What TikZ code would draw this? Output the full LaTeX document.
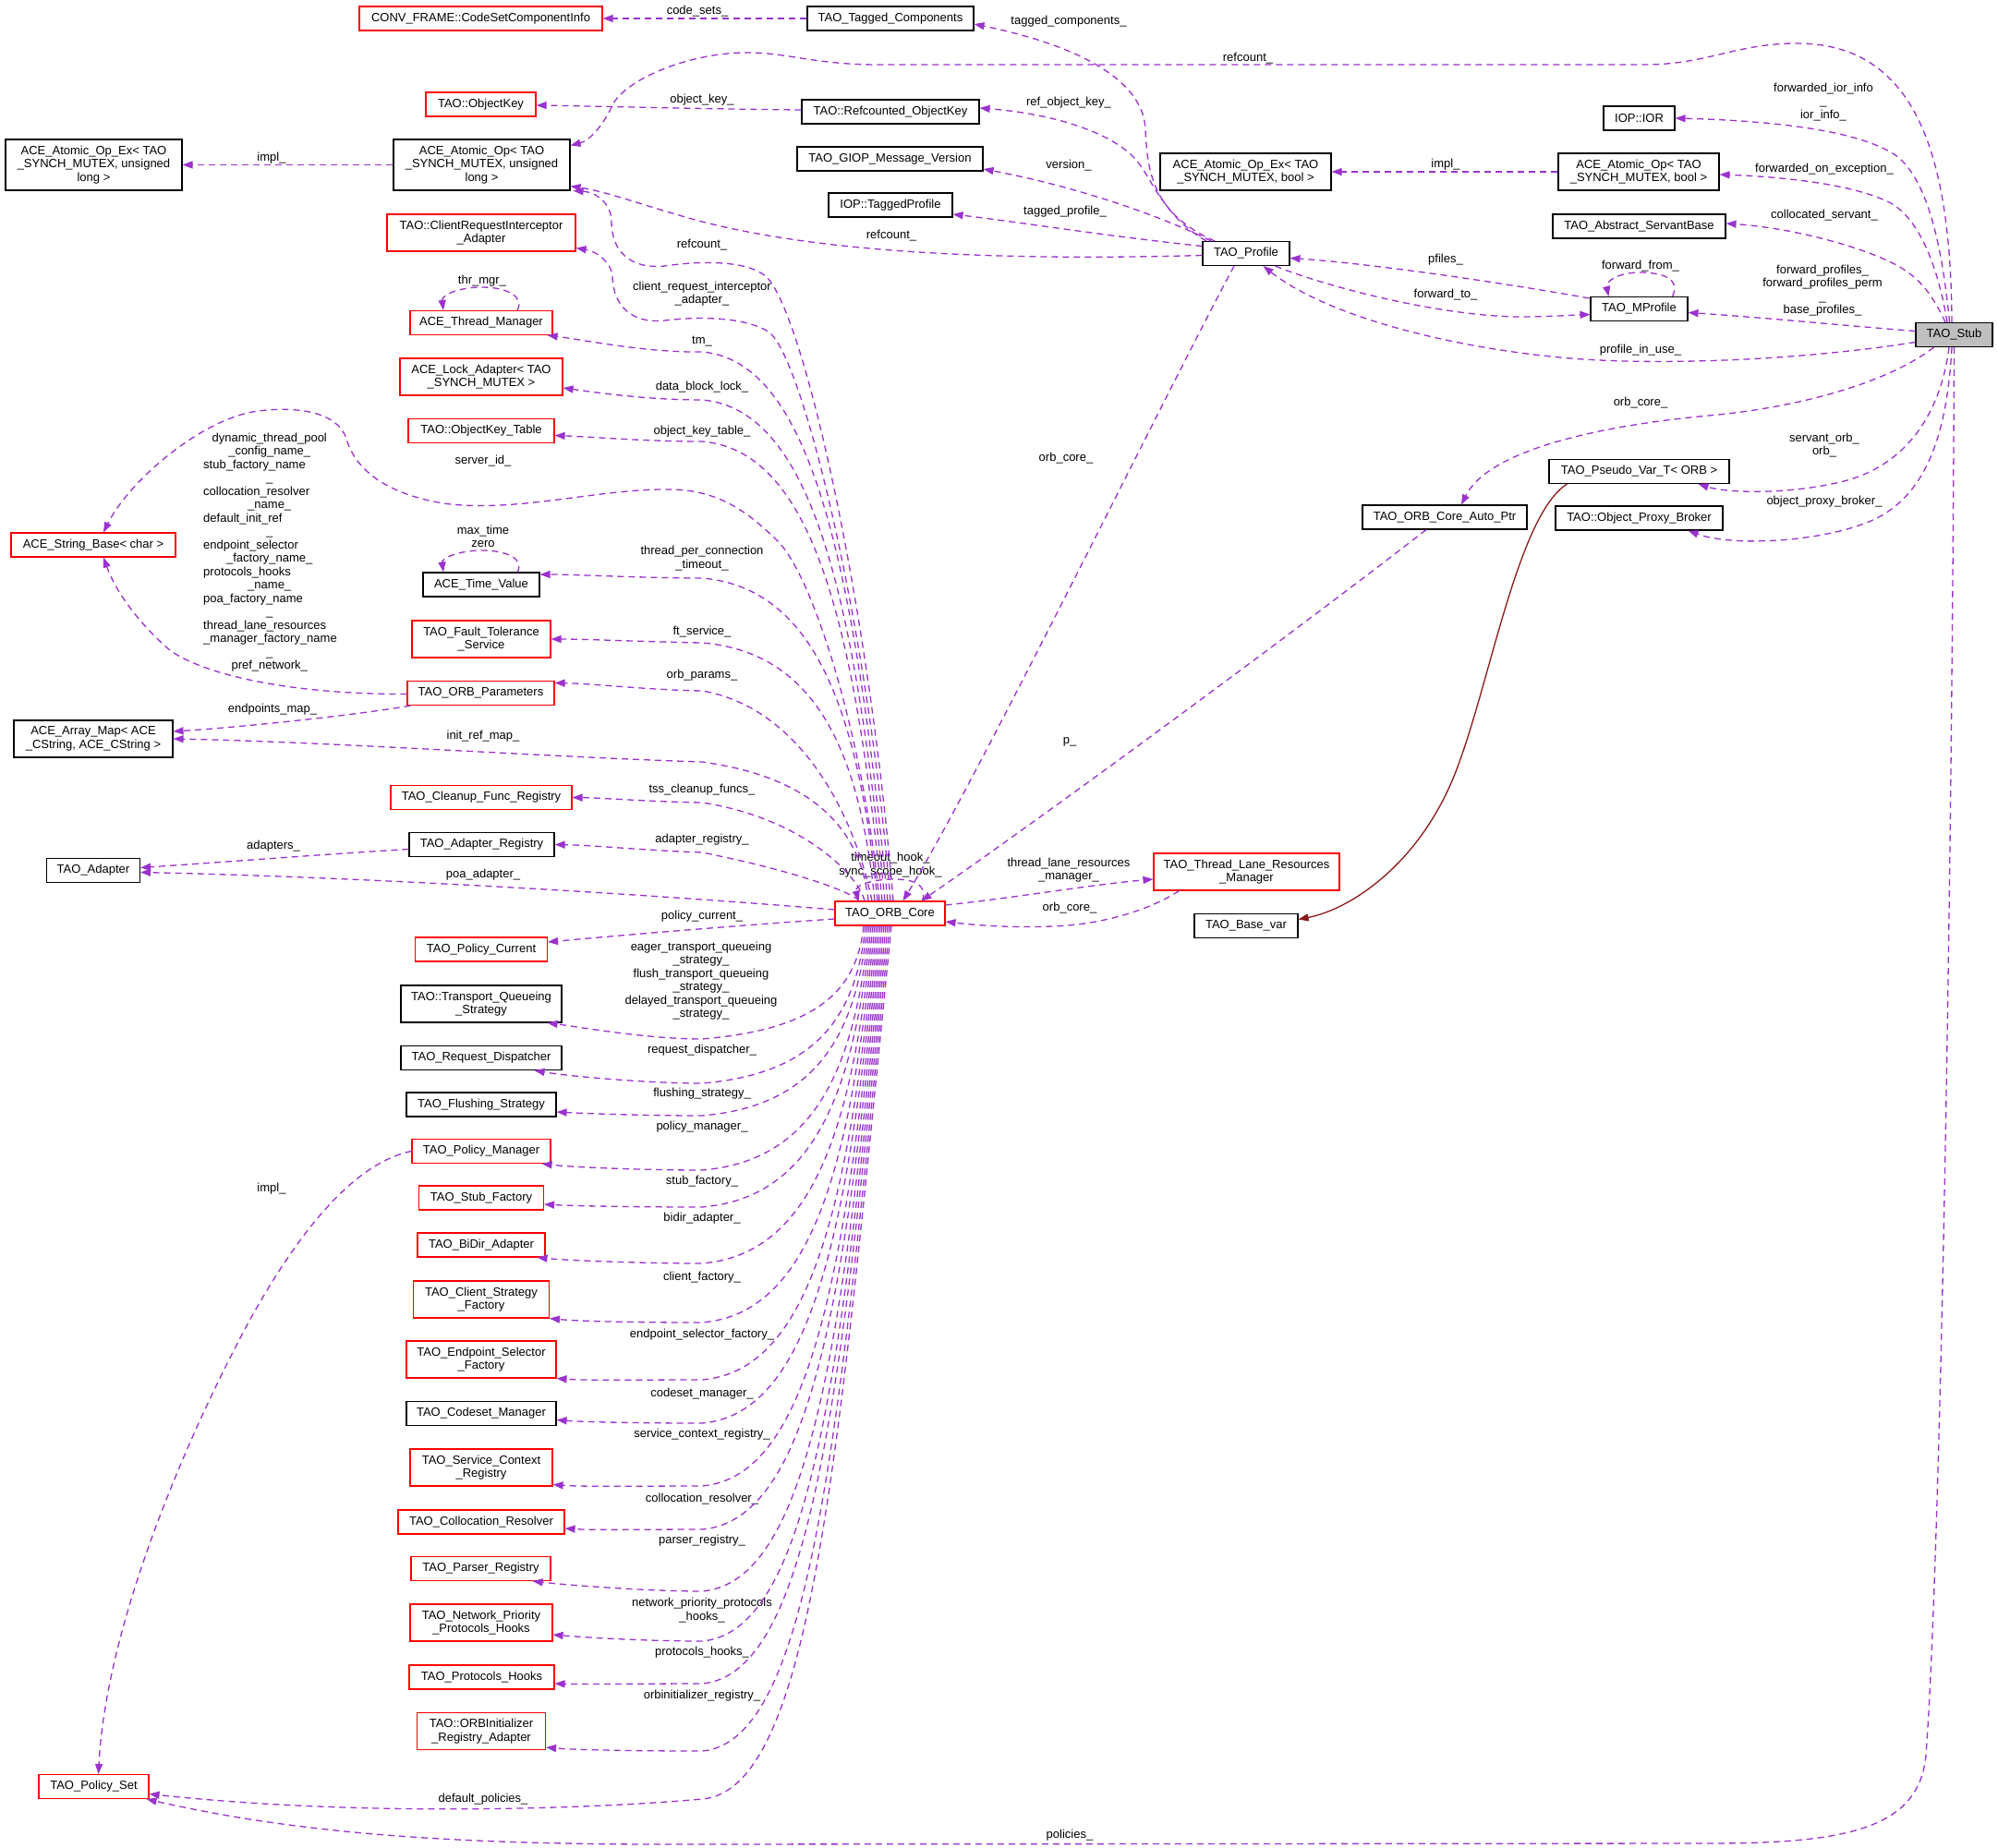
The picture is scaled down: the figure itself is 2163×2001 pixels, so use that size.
\documentclass[tikz,border=0pt]{standalone}
\usepackage{fontspec}
\setmainfont{Liberation Sans}
\usetikzlibrary{arrows.meta}
\definecolor{dorchid}{HTML}{9A32CD}
\definecolor{fbrick}{HTML}{8B1A1A}
\definecolor{stubgray}{HTML}{BFBFBF}
\definecolor{boxred}{HTML}{FF0000}
\newcommand{\dxf}{\fontsize{13}{14.5}\selectfont}
\newcommand{\clin}[1]{\makebox[143pt][c]{#1}}
\begin{document}
\begin{tikzpicture}[x=1pt,y=-1pt,
  bx/.style={draw=black, line width=1.1pt, rectangle, inner sep=0pt, align=center, font=\dxf},
  rbx/.style={bx, draw=boxred},
  dep/.style={draw=dorchid, line width=1.3pt, dash pattern=on 7pt off 5pt, -{Triangle[length=11pt,width=8pt]}},
  inh/.style={draw=fbrick, line width=1.3pt, -{Triangle[length=11pt,width=8pt]}},
  lbl/.style={font=\dxf, align=center, inner sep=0pt}]
\fill[white] (0,0) rectangle (2163,2001);
\useasboundingbox (0,0) rectangle (2163,2001);

% ---------- nodes ----------
\node[rbx, minimum width=263, minimum height=26] (conv) at (520.5,20) {CONV\_FRAME::CodeSetComponentInfo};
\node[bx, minimum width=180, minimum height=26] (tagged) at (964,20) {TAO\_Tagged\_Components};
\node[rbx, minimum width=119, minimum height=26] (okey) at (520.5,113) {TAO::ObjectKey};
\node[bx, minimum width=192, minimum height=26] (rokey) at (964,121) {TAO::Refcounted\_ObjectKey};
\node[bx, minimum width=201, minimum height=26] (giop) at (963.5,172) {TAO\_GIOP\_Message\_Version};
\node[bx, minimum width=134, minimum height=26] (tprof) at (964,222) {IOP::TaggedProfile};
\node[bx, minimum width=191, minimum height=55] (aoul) at (521.5,178.5) {ACE\_Atomic\_Op< TAO\\\_SYNCH\_MUTEX, unsigned\\long >};
\node[bx, minimum width=191, minimum height=55] (aoexul) at (101.5,178.5) {ACE\_Atomic\_Op\_Ex< TAO\\\_SYNCH\_MUTEX, unsigned\\long >};
\node[bx, minimum width=185, minimum height=40] (aoexb) at (1348.5,186) {ACE\_Atomic\_Op\_Ex< TAO\\\_SYNCH\_MUTEX, bool >};
\node[bx, minimum width=174, minimum height=40] (aob) at (1774,186) {ACE\_Atomic\_Op< TAO\\\_SYNCH\_MUTEX, bool >};
\node[bx, minimum width=77, minimum height=26] (ior) at (1774.5,128) {IOP::IOR};
\node[bx, minimum width=187, minimum height=26] (servant) at (1774.5,245) {TAO\_Abstract\_ServantBase};
\node[bx, minimum width=94, minimum height=26] (profile) at (1349,274.5) {TAO\_Profile};
\node[bx, minimum width=105, minimum height=26] (mprofile) at (1774.5,334.5) {TAO\_MProfile};
\node[bx, fill=stubgray, minimum width=83, minimum height=26] (stub) at (2115.5,362.5) {TAO\_Stub};
\node[bx, minimum width=195, minimum height=26] (pseudo) at (1774.5,510.5) {TAO\_Pseudo\_Var\_T< ORB >};
\node[bx, minimum width=178, minimum height=26] (autoptr) at (1564,560) {TAO\_ORB\_Core\_Auto\_Ptr};
\node[bx, minimum width=181, minimum height=26] (opb) at (1774.5,561) {TAO::Object\_Proxy\_Broker};
\node[rbx, minimum width=201, minimum height=40] (tlrm) at (1349.5,944) {TAO\_Thread\_Lane\_Resources\\\_Manager};
\node[bx, minimum width=112, minimum height=26] (basevar) at (1349,1002.5) {TAO\_Base\_var};
\node[rbx, minimum width=119, minimum height=26] (orbcore) at (963.5,989) {TAO\_ORB\_Core};
\node[rbx, minimum width=204, minimum height=40] (cria) at (521,252) {TAO::ClientRequestInterceptor\\\_Adapter};
\node[rbx, minimum width=154, minimum height=26] (thrmgr) at (521,349.5) {ACE\_Thread\_Manager};
\node[rbx, minimum width=176, minimum height=40] (lock) at (521,408) {ACE\_Lock\_Adapter< TAO\\\_SYNCH\_MUTEX >};
\node[rbx, minimum width=158, minimum height=26] (oktable) at (521,466.5) {TAO::ObjectKey\_Table};
\node[rbx, minimum width=178, minimum height=26] (strbase) at (101,590) {ACE\_String\_Base< char >};
\node[bx, minimum width=126, minimum height=26] (timeval) at (521,633) {ACE\_Time\_Value};
\node[rbx, minimum width=150, minimum height=40] (ft) at (521,692) {TAO\_Fault\_Tolerance\\\_Service};
\node[rbx, minimum width=159, minimum height=26] (orbparams) at (520.5,750.5) {TAO\_ORB\_Parameters};
\node[bx, minimum width=172, minimum height=40] (arraymap) at (101,800) {ACE\_Array\_Map< ACE\\\_CString, ACE\_CString >};
\node[rbx, minimum width=196, minimum height=26] (cleanup) at (521,863.5) {TAO\_Cleanup\_Func\_Registry};
\node[bx, minimum width=157, minimum height=26] (adreg) at (521.5,914.5) {TAO\_Adapter\_Registry};
\node[bx, minimum width=101, minimum height=26] (adapter) at (101,942.5) {TAO\_Adapter};
\node[rbx, minimum width=143, minimum height=26] (polcur) at (521,1028) {TAO\_Policy\_Current};
\node[bx, minimum width=174, minimum height=40] (tqs) at (521,1087) {TAO::Transport\_Queueing\\\_Strategy};
\node[bx, minimum width=174, minimum height=26] (reqdisp) at (521,1145.5) {TAO\_Request\_Dispatcher};
\node[bx, minimum width=162, minimum height=26] (flush) at (521,1196) {TAO\_Flushing\_Strategy};
\node[rbx, minimum width=150, minimum height=26] (polmgr) at (521,1246.5) {TAO\_Policy\_Manager};
\node[rbx, minimum width=135, minimum height=26] (stubfac) at (521,1297) {TAO\_Stub\_Factory};
\node[rbx, minimum width=138, minimum height=26] (bidir) at (521,1348) {TAO\_BiDir\_Adapter};
\node[rbx, minimum width=147, minimum height=40] (csf) at (521,1407) {TAO\_Client\_Strategy\\\_Factory};
\node[rbx, minimum width=162, minimum height=40] (esf) at (521,1472) {TAO\_Endpoint\_Selector\\\_Factory};
\node[bx, minimum width=162, minimum height=26] (codeset) at (521,1530.5) {TAO\_Codeset\_Manager};
\node[rbx, minimum width=154, minimum height=40] (scr) at (521,1589) {TAO\_Service\_Context\\\_Registry};
\node[rbx, minimum width=180, minimum height=26] (coll) at (521,1648) {TAO\_Collocation\_Resolver};
\node[rbx, minimum width=151, minimum height=26] (parser) at (520.5,1698.5) {TAO\_Parser\_Registry};
\node[rbx, minimum width=154, minimum height=40] (nph) at (521,1757) {TAO\_Network\_Priority\\\_Protocols\_Hooks};
\node[rbx, minimum width=157, minimum height=26] (ph) at (521.5,1816) {TAO\_Protocols\_Hooks};
\node[rbx, minimum width=139, minimum height=40] (orbinit) at (521,1874.5) {TAO::ORBInitializer\\\_Registry\_Adapter};
\node[rbx, minimum width=119, minimum height=26] (polset) at (101.5,1934.5) {TAO\_Policy\_Set};

% ---------- labels ----------
\node[lbl] (l01) at (755,12) {code\_sets\_};
\node[lbl] (l02) at (1157,23) {tagged\_components\_};
\node[lbl] (l03) at (1351,63) {refcount\_};
\node[lbl] (l04) at (760,108) {object\_key\_};
\node[lbl] (l05) at (1157,111) {ref\_object\_key\_};
\node[lbl] (l06) at (294,171) {impl\_};
\node[lbl] (l07) at (1157,179) {version\_};
\node[lbl] (l08) at (1565,178) {impl\_};
\node[lbl] (l09) at (1975,183) {forwarded\_on\_exception\_};
\node[lbl] (l10) at (1153,229) {tagged\_profile\_};
\node[lbl] (l11) at (1975,233) {collocated\_servant\_};
\node[lbl] (l12) at (965,255) {refcount\_};
\node[lbl] (l13) at (760,265) {refcount\_};
\node[lbl] (l14) at (1565,281) {pfiles\_};
\node[lbl] (l15) at (1776,288) {forward\_from\_};
\node[lbl] (l16) at (522,304) {thr\_mgr\_};
\node[lbl] (l17) at (760,318) {client\_request\_interceptor\\\_adapter\_};
\node[lbl] (l18) at (1565,319) {forward\_to\_};
\node[lbl] (l19) at (1973,314.5) {forward\_profiles\_\\forward\_profiles\_perm\\\_\\base\_profiles\_};
\node[lbl] (l20) at (1974,110.5) {forwarded\_ior\_info\\\_\\ior\_info\_};
\node[lbl] (l21) at (760,370) {tm\_};
\node[lbl] (l22) at (1776,379) {profile\_in\_use\_};
\node[lbl] (l23) at (760,419) {data\_block\_lock\_};
\node[lbl] (l24) at (1776,436) {orb\_core\_};
\node[lbl] (l25) at (760,467) {object\_key\_table\_};
\node[lbl] (l26) at (1975,482) {servant\_orb\_\\orb\_};
\node[lbl] (l27) at (1154,496) {orb\_core\_};
\node[lbl] (l28) at (523,499) {server\_id\_};
\node[lbl] (l29) at (1975,543) {object\_proxy\_broker\_};
\node[lbl] (l30) at (523,581) {max\_time\\zero};
\node[lbl, align=left] (l31) at (292.5,598) {\clin{dynamic\_thread\_pool}\\\clin{\_config\_name\_}\\stub\_factory\_name\\\clin{\_}\\collocation\_resolver\\\clin{\_name\_}\\default\_init\_ref\\\clin{\_}\\endpoint\_selector\\\clin{\_factory\_name\_}\\protocols\_hooks\\\clin{\_name\_}\\poa\_factory\_name\\\clin{\_}\\thread\_lane\_resources\\\_manager\_factory\_name\\\clin{\_}\\\clin{pref\_network\_}};
\node[lbl] (l32) at (760,604.5) {thread\_per\_connection\\\_timeout\_};
\node[lbl] (l33) at (760,684) {ft\_service\_};
\node[lbl] (l34) at (760,731) {orb\_params\_};
\node[lbl] (l35) at (295,768) {endpoints\_map\_};
\node[lbl] (l36) at (523,797) {init\_ref\_map\_};
\node[lbl] (l37) at (1158,803) {p\_};
\node[lbl] (l38) at (760,855) {tss\_cleanup\_funcs\_};
\node[lbl] (l39) at (760,909) {adapter\_registry\_};
\node[lbl] (l40) at (296,916) {adapters\_};
\node[lbl] (l41) at (964,936.5) {timeout\_hook\_\\sync\_scope\_hook\_};
\node[lbl] (l42) at (1157,942) {thread\_lane\_resources\\\_manager\_};
\node[lbl] (l43) at (523,947) {poa\_adapter\_};
\node[lbl] (l44) at (1158,983) {orb\_core\_};
\node[lbl] (l45) at (760,992) {policy\_current\_};
\node[lbl] (l46) at (759,1062) {eager\_transport\_queueing\\\_strategy\_\\flush\_transport\_queueing\\\_strategy\_\\delayed\_transport\_queueing\\\_strategy\_};
\node[lbl] (l47) at (760,1137) {request\_dispatcher\_};
\node[lbl] (l48) at (760,1184) {flushing\_strategy\_};
\node[lbl] (l49) at (760,1220) {policy\_manager\_};
\node[lbl] (l50) at (760,1279) {stub\_factory\_};
\node[lbl] (l51) at (294,1287) {impl\_};
\node[lbl] (l52) at (760,1319) {bidir\_adapter\_};
\node[lbl] (l53) at (760,1383) {client\_factory\_};
\node[lbl] (l54) at (760,1445) {endpoint\_selector\_factory\_};
\node[lbl] (l55) at (760,1509) {codeset\_manager\_};
\node[lbl] (l56) at (760,1553) {service\_context\_registry\_};
\node[lbl] (l57) at (760,1623) {collocation\_resolver\_};
\node[lbl] (l58) at (760,1668) {parser\_registry\_};
\node[lbl] (l59) at (760,1743.5) {network\_priority\_protocols\\\_hooks\_};
\node[lbl] (l60) at (760,1789) {protocols\_hooks\_};
\node[lbl] (l61) at (760,1836) {orbinitializer\_registry\_};
\node[lbl] (l62) at (523,1948) {default\_policies\_};
\node[lbl] (l63) at (1158,1987) {policies\_};

% ---------- straight / simple edges ----------
\draw[dep] (tagged.west) -- (conv.east);
\draw[dep] (aoul.west) -- (aoexul.east);
\draw[dep] (aob.west) -- (aoexb.east);
\draw[dep] ([yshift=2pt]rokey.west) .. controls (760,118) and (650,115) .. ([yshift=-1pt]okey.east);

% ---------- TAO_Profile edges ----------
\draw[dep] ([xshift=-34pt]profile.north) .. controls (1250,232) and (1242,190) .. (1240,140) .. controls (1238,92) and (1180,52) .. ([yshift=-6pt]tagged.east);
\draw[dep] ([xshift=-43pt]profile.north) .. controls (1262,236) and (1248,197) .. (1233,177) .. controls (1212,148) and (1150,124) .. ([yshift=4pt]rokey.east);
\draw[dep] ([xshift=-38pt]profile.north) .. controls (1270,240) and (1180,205) .. ([yshift=-11pt]giop.east);
\draw[dep] ([yshift=8pt]profile.west) .. controls (1200,256) and (1100,240) .. ([yshift=-10pt]tprof.east);
\draw[dep] ([yshift=-2pt]profile.west) .. controls (1100,282) and (900,276) .. (760,240) .. controls (700,224) and (660,208) .. ([yshift=5pt]aoul.south east);
\draw[dep] ([xshift=-13pt]profile.south) .. controls (1260,430) and (1060,840) .. ([xshift=14pt]orbcore.north);
\draw[dep] ([xshift=-16pt]profile.south east) .. controls (1440,312) and (1560,342) .. (1643,343) .. controls (1680,343) and (1705,341) .. ([yshift=-6pt]mprofile.west);

% ---------- TAO_MProfile edges ----------
\draw[dep] ([xshift=-1pt,yshift=-2pt]mprofile.north west) .. controls (1620,305) and (1480,285) .. ([yshift=-5pt]profile.east);
\draw[dep] ([xshift=36pt]mprofile.north) .. controls (1820,302) and (1800,295) .. (1775,295) .. controls (1752,295) and (1738,305) .. ([xshift=-33pt]mprofile.north);

% ---------- TAO_Stub edges ----------
\draw[dep] ([yshift=4pt]stub.west) .. controls (1990,352) and (1900,343) .. ([yshift=-4pt]mprofile.east);
\draw[dep] ([yshift=-8pt]stub.west) .. controls (1950,390) and (1800,396) .. (1700,388) .. controls (1580,378) and (1440,345) .. ([xshift=-29pt]profile.south east);
\draw[dep] ([xshift=-5pt]stub.north) .. controls (2102,260) and (2085,192) .. (2052,168) .. controls (2015,143) and (1930,131) .. (ior.east);
\draw[dep] ([xshift=-7.5pt]stub.north) .. controls (2100,300) and (2082,240) .. (2047,220) .. controls (2005,198) and (1920,191) .. ([yshift=-3pt]aob.east);
\draw[dep] ([xshift=-9.5pt]stub.north) .. controls (2090,315) and (2075,297) .. (2045,283) .. controls (2000,262) and (1930,246) .. ([yshift=3pt]servant.east);
\draw[dep] ([xshift=-2.5pt]stub.north) .. controls (2112,170) and (2075,50) .. (1950,47) .. controls (1880,46) and (1850,70) .. (1780,70) -- (950,70) .. controls (880,70) and (850,56) .. (805,57) .. controls (745,58) and (680,85) .. (664,112) .. controls (655,132) and (640,152) .. ([yshift=-7pt]aoul.north east);
\draw[dep] ([xshift=-22pt]stub.south) .. controls (2050,410) and (1960,440) .. (1850,450) .. controls (1720,462) and (1610,490) .. ([xshift=18pt]autoptr.north);
\draw[dep] ([xshift=-5.5pt]stub.south) .. controls (2102,440) and (2070,500) .. (2000,520) .. controls (1940,536) and (1870,534) .. ([xshift=-34pt]pseudo.south east);
\draw[dep] ([xshift=-2.5pt]stub.south) .. controls (2108,470) and (2085,540) .. (2023,565) .. controls (1970,587) and (1875,592) .. ([xshift=-38pt]opb.south east);
\draw[dep] (stub.south) .. controls (2113,1000) and (2100,1700) .. (2085,1900) .. controls (2078,1980) and (2000,1996) .. (1850,1996) -- (720,1997) .. controls (450,1997) and (300,1980) .. ([xshift=-3pt]polset.south east);

% ---------- right-middle ----------
\draw[dep] ([xshift=-20pt]autoptr.south) .. controls (1420,670) and (1150,870) .. ([xshift=34pt]orbcore.north);
\draw[dep] ([yshift=9pt]orbcore.east) .. controls (1100,972) and (1180,958) .. ([yshift=-8pt]tlrm.west);
\draw[dep] ([xshift=28pt]tlrm.south west) .. controls (1250,982) and (1200,1001) .. (1139,1003) .. controls (1090,1005) and (1050,1001) .. ([yshift=-9pt]orbcore.east);
\draw[inh] ([xshift=20pt]pseudo.south west) .. controls (1640,560) and (1610,760) .. (1570,850) .. controls (1530,940) and (1460,985) .. ([yshift=7pt]basevar.east);
\draw[dep] ([xshift=35pt]orbcore.north) .. controls (1004,958) and (990,952) .. (968,952) .. controls (945,952) and (925,958) .. ([xshift=-34pt]orbcore.north);

% ---------- self loops ----------
\draw[dep] ([xshift=39pt]thrmgr.north) .. controls (568,322) and (550,311) .. (522,311) .. controls (495,311) and (478,320) .. ([xshift=-41pt]thrmgr.north);
\draw[dep] ([xshift=39pt]timeval.north) .. controls (568,606) and (550,596) .. (522,596) .. controls (495,596) and (478,605) .. ([xshift=-41pt]timeval.north);

% ---------- ORB_Params / Adapter_Registry / Policy_Manager ----------
\draw[dep] ([xshift=4pt]orbparams.south west) .. controls (400,772) and (280,786) .. ([yshift=8pt]arraymap.east);
\draw[dep] ([yshift=-1pt]orbparams.west) .. controls (330,752) and (230,735) .. (185,705) .. controls (150,675) and (125,640) .. ([xshift=11pt]strbase.south);
\draw[dep] ([yshift=-5pt]adreg.west) .. controls (350,925) and (250,933) .. ([yshift=3pt]adapter.east);
\draw[dep] (polmgr.west) .. controls (380,1260) and (320,1340) .. (270,1430) .. controls (200,1560) and (115,1760) .. ([xshift=5pt]polset.north);

% ---------- ORB_Core upper edges ----------
\draw[dep] ([xshift=3.5pt]orbcore.north) .. controls (940,650) and (870,340) .. (830,300) .. controls (810,282) and (760,282) .. (720,288) .. controls (680,292) and (662,270) .. (662,240) .. controls (662,220) and (645,208) .. ([xshift=3pt]aoul.south east);
\draw[dep] ([xshift=0.5pt]orbcore.north) .. controls (940,680) and (870,390) .. (833,360) .. controls (810,344) and (760,342) .. (720,347) .. controls (685,351) and (664,332) .. (663,300) .. controls (662,283) and (645,272) .. ([yshift=4pt]cria.south east);
\draw[dep] ([xshift=-2.5pt]orbcore.north) .. controls (925.3,619) and (880,391) .. (760,381) .. controls (700,382) and (632,368) .. ([xshift=-6pt]thrmgr.south east);
\draw[dep] ([xshift=-5.5pt]orbcore.north) .. controls (925.4,650) and (880,443) .. (760,433) .. controls (700,433) and (645,425) .. ([yshift=-12pt]lock.east);
\draw[dep] ([xshift=-8.5pt]orbcore.north) .. controls (925.1,677) and (880,488) .. (760,478) .. controls (700,478) and (640,473) .. ([yshift=-5pt]oktable.east);
\draw[dep] ([xshift=-11.5pt]orbcore.north) .. controls (935,800) and (880,620) .. (840,584) .. controls (810,555) and (780,532) .. (730,530) .. controls (650,528) and (560,556) .. (480,545) .. controls (420,535) and (385,510) .. (375,475) .. controls (365,445) and (320,440) .. (280,445) .. controls (220,452) and (140,520) .. ([xshift=11pt]strbase.north);
\draw[dep] ([xshift=-13.5pt]orbcore.north) .. controls (929,766) and (880,636) .. (760,626) .. controls (700,626) and (625,622) .. ([yshift=11pt]timeval.east);
\draw[dep] ([xshift=-16.5pt]orbcore.north) .. controls (930,808) and (880,706) .. (760,696) .. controls (700,695) and (636,692) .. (ft.east);
\draw[dep] ([xshift=-19.5pt]orbcore.north) .. controls (922,870) and (860,765) .. (760,748) .. controls (700,747) and (640,740) .. ([yshift=11pt]orbparams.east);
\draw[dep] ([xshift=-23.5pt]orbcore.north) .. controls (931,890) and (870,840) .. (760,825) .. controls (600,820) and (350,803) .. (arraymap.east);
\draw[dep] ([xshift=-27.5pt]orbcore.north) .. controls (928,945) and (865,885) .. (760,869) .. controls (700,868) and (655,864) .. (cleanup.east);
\draw[dep] ([xshift=-33.5pt]orbcore.north) .. controls (925,968) and (870,945) .. (760,923) .. controls (700,921) and (640,915) .. (adreg.east);
\draw[dep] ([yshift=4pt]orbcore.west) .. controls (700,968) and (400,950) .. ([yshift=-2pt]adapter.east);
\draw[dep] ([yshift=-6pt]orbcore.west) .. controls (800,1002) and (680,1012) .. ([yshift=8pt]polcur.east);

% ---------- ORB_Core lower edges ----------
\draw[dep] ([xshift=-28.5pt]orbcore.south) .. controls (927.6,1075.8) and (880,1115) .. (760,1125) .. controls (700,1125) and (627,1112) .. ([xshift=-16pt]tqs.south east);
\draw[dep] ([xshift=-26.5pt]orbcore.south) .. controls (926.7,1104.6) and (880,1163) .. (760,1173) .. controls (700,1173) and (613,1165) .. ([xshift=-30pt]reqdisp.south east);
\draw[dep] ([xshift=-24.5pt]orbcore.south) .. controls (926.6,1125.6) and (880,1198) .. (760,1208) .. controls (700,1208) and (640,1206) .. ([yshift=-8pt]flush.east);
\draw[dep] ([xshift=-22.5pt]orbcore.south) .. controls (925.1,1161) and (880,1257) .. (760,1267) .. controls (700,1267) and (620,1264) .. ([xshift=-10pt]polmgr.south east);
\draw[dep] ([xshift=-20.5pt]orbcore.south) .. controls (924.7,1185) and (880,1297) .. (760,1307) .. controls (700,1307) and (625,1306) .. ([yshift=-7pt]stubfac.east);
\draw[dep] ([xshift=-18.5pt]orbcore.south) .. controls (923,1221.6) and (880,1358) .. (760,1368) .. controls (700,1368) and (616,1365) .. ([xshift=-9pt]bidir.south east);
\draw[dep] ([xshift=-16.5pt]orbcore.south) .. controls (921,1260) and (880,1422) .. (760,1432) .. controls (700,1432) and (630,1431) .. (csf.south east);
\draw[dep] ([xshift=-14.5pt]orbcore.south) .. controls (919.5,1297) and (880,1484) .. (760,1494) .. controls (700,1494) and (637,1495) .. (esf.south east);
\draw[dep] ([xshift=-12.5pt]orbcore.south) .. controls (918.7,1325.4) and (880,1531) .. (760,1541) .. controls (700,1541) and (637,1540) .. ([yshift=-7pt]codeset.east);
\draw[dep] ([xshift=-10.5pt]orbcore.south) .. controls (916.6,1366.2) and (880,1599) .. (760,1609) .. controls (700,1609) and (633,1610) .. ([yshift=2pt]scr.south east);
\draw[dep] ([xshift=-8.5pt]orbcore.south) .. controls (915.8,1394.4) and (880,1646) .. (760,1656) .. controls (700,1656) and (646,1657) .. ([yshift=-7pt]coll.east);
\draw[dep] ([xshift=-6.5pt]orbcore.south) .. controls (913.7,1434.6) and (880,1713) .. (760,1723) .. controls (700,1723) and (611,1716) .. ([xshift=-20pt]parser.south east);
\draw[dep] ([xshift=-4.5pt]orbcore.south) .. controls (912.5,1467) and (880,1767) .. (760,1777) .. controls (700,1777) and (633,1773) .. ([yshift=-13pt]nph.east);
\draw[dep] ([xshift=-2.5pt]orbcore.south) .. controls (911.7,1494.6) and (880,1813) .. (760,1823) .. controls (700,1823) and (635,1824) .. ([yshift=-7pt]ph.east);
\draw[dep] ([xshift=-0.5pt]orbcore.south) .. controls (909.4,1538.4) and (880,1886) .. (760,1896) .. controls (700,1896) and (625,1895) .. ([yshift=3pt]orbinit.south east);
\draw[dep] ([xshift=1.5pt]orbcore.south) .. controls (908,1569.6) and (880,1938) .. (760,1948) .. controls (650,1958) and (400,1968) .. ([yshift=-8pt]polset.east);
\end{tikzpicture}
\end{document}
